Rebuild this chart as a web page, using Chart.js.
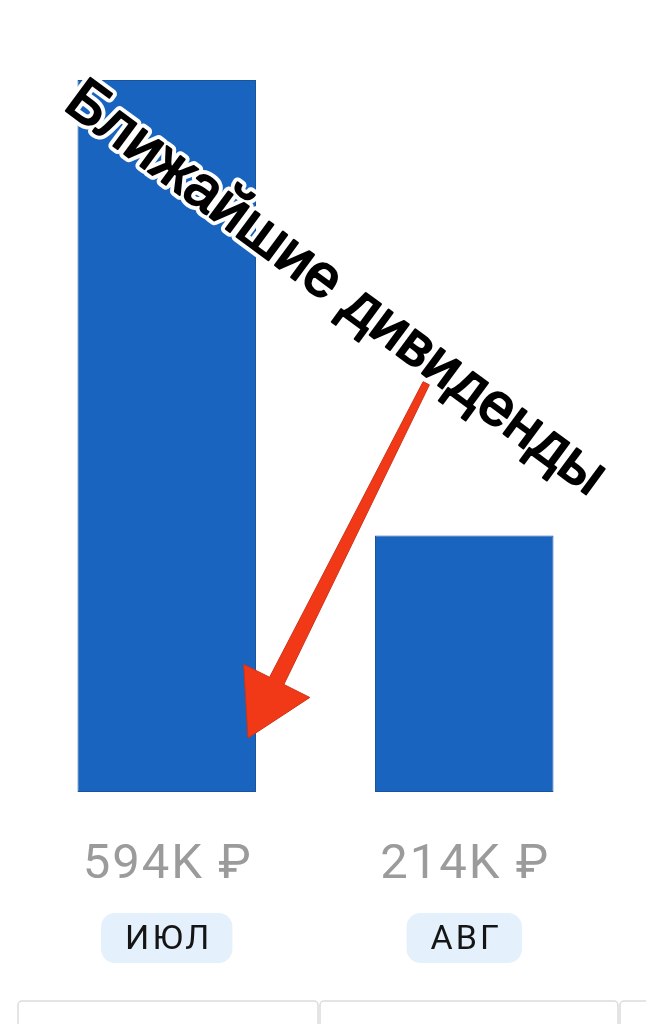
<!DOCTYPE html>
<html lang="ru">
<head>
<meta charset="utf-8">
<title>Ближайшие дивиденды</title>
<script src="https://cdn.jsdelivr.net/npm/chart.js@4"></script>
<style>
    html, body { margin: 0; padding: 0; background: #fff; }
    canvas { display: block; }
</style>
</head>
<body>
<canvas id="divChart" width="646" height="1024"></canvas>
<script>
// данные графика
const months = ['ИЮЛ', 'АВГ'];
const payouts = [594, 214]; // тыс. ₽
const payoutLabels = ['594K ₽', '214K ₽'];
const title = 'Ближайшие дивиденды';

const barColor = '#1864be';

// подписи под столбцами, плашки месяцев и нижние карточки
const labelsPlugin = {
    id: 'labelsPlugin',
    afterDraw(chart) {
        const ctx = chart.ctx;
        const area = chart.chartArea;
        const meta = chart.getDatasetMeta(0);

        ctx.save();
        meta.data.forEach((bar, i) => {
            // сумма
            ctx.font = '400 49px Roboto';
            ctx.letterSpacing = '2px';
            ctx.fillStyle = '#9b9b9b';
            ctx.textAlign = 'center';
            ctx.textBaseline = 'alphabetic';
            ctx.fillText(payoutLabels[i], bar.x + 1, area.bottom + 86);

            // плашка месяца
            ctx.font = '400 34px Roboto';
            ctx.letterSpacing = '3px';
            const w = ctx.measureText(months[i]).width + 44;
            const top = area.bottom + 121;
            ctx.fillStyle = '#e4f0fb';
            ctx.beginPath();
            ctx.roundRect(bar.x - w / 2, top, w, 50, 14);
            ctx.fill();
            ctx.fillStyle = '#151515';
            ctx.textBaseline = 'middle';
            ctx.fillText(months[i], bar.x + 2, top + 27);
            ctx.letterSpacing = '0px';
        });

        // верх карточек внизу экрана
        ctx.strokeStyle = '#dcdce0';
        ctx.lineWidth = 1.5;
        const cardTop = area.bottom + 209;
        [[18, 300], [320, 298], [620, 300]].forEach(c => {
            ctx.beginPath();
            ctx.roundRect(c[0], cardTop, c[1], 80, 4);
            ctx.stroke();
        });
        ctx.restore();
    }
};

// наклонная надпись и красная стрелка поверх графика
const annotationPlugin = {
    id: 'annotationPlugin',
    afterDraw(chart) {
        const ctx = chart.ctx;
        const y = chart.scales.y;
        const meta = chart.getDatasetMeta(0);
        const first = meta.data[0];
        const second = meta.data[1];

        // стрелка
        const tip = { x: first.x + first.width / 2 - 8, y: y.getPixelForValue(45) };
        const tail = { x: second.x - 38, y: y.getPixelForValue(341) };
        const dx = tip.x - tail.x, dy = tip.y - tail.y;
        const len = Math.hypot(dx, dy);
        const u = { x: dx / len, y: dy / len };
        const n = { x: -u.y, y: u.x };
        const headLen = 64;
        const base = { x: tip.x - u.x * headLen, y: tip.y - u.y * headLen };
        const pt = (p, k) => [p.x + n.x * k, p.y + n.y * k];

        ctx.save();
        ctx.fillStyle = '#f13918';
        ctx.strokeStyle = '#cf3218';
        ctx.lineWidth = 1;
        ctx.lineJoin = 'miter';
        ctx.beginPath();
        ctx.moveTo(...pt(tail, 3.5));
        ctx.lineTo(...pt(base, 8));
        ctx.lineTo(...pt(base, 37));
        ctx.lineTo(tip.x, tip.y);
        ctx.lineTo(...pt(base, -37));
        ctx.lineTo(...pt(base, -8));
        ctx.lineTo(...pt(tail, -3.5));
        ctx.closePath();
        ctx.fill();
        ctx.stroke();

        // надпись
        const startX = 62, startY = 108;
        const targetLen = 655;
        ctx.font = '400 58px "Liberation Sans"';
        const size = 58 * targetLen / ctx.measureText(title).width;
        ctx.font = '400 ' + size.toFixed(1) + 'px "Liberation Sans"';
        ctx.translate(startX, startY);
        ctx.rotate(36.4 * Math.PI / 180);
        ctx.textAlign = 'left';
        ctx.textBaseline = 'alphabetic';
        ctx.lineJoin = 'round';
        ctx.lineWidth = 10;
        ctx.strokeStyle = '#ffffff';
        ctx.strokeText(title, 0, 0);
        ctx.fillStyle = '#000000';
        ctx.fillText(title, 0, 0);
        ctx.lineWidth = 2.2;
        ctx.strokeStyle = '#000000';
        ctx.strokeText(title, 0, 0);
        ctx.restore();
    }
};

const whiteBackground = {
    id: 'whiteBackground',
    beforeDraw(chart) {
        const ctx = chart.ctx;
        ctx.save();
        ctx.fillStyle = '#ffffff';
        ctx.fillRect(0, 0, chart.width, chart.height);
        ctx.restore();
    }
};

const ctx = document.getElementById('divChart').getContext('2d');
new Chart(ctx, {
    type: 'bar',
    data: {
        labels: months,
        datasets: [{
            label: 'Дивиденды',
            data: payouts,
            backgroundColor: barColor,
            borderColor: '#1a559c',
            borderWidth: 1,
            borderSkipped: false,
            categoryPercentage: 1,
            barPercentage: 0.6
        }]
    },
    options: {
        responsive: false,
        animation: false,
        devicePixelRatio: 1,
        layout: {
            padding: { top: 80, bottom: 232, left: 18, right: 33 }
        },
        scales: {
            x: { display: false },
            y: { display: false, min: 0, max: 594 }
        },
        plugins: {
            legend: { display: false },
            tooltip: { enabled: false }
        }
    },
    plugins: [whiteBackground, labelsPlugin, annotationPlugin]
});
</script>
</body>
</html>
